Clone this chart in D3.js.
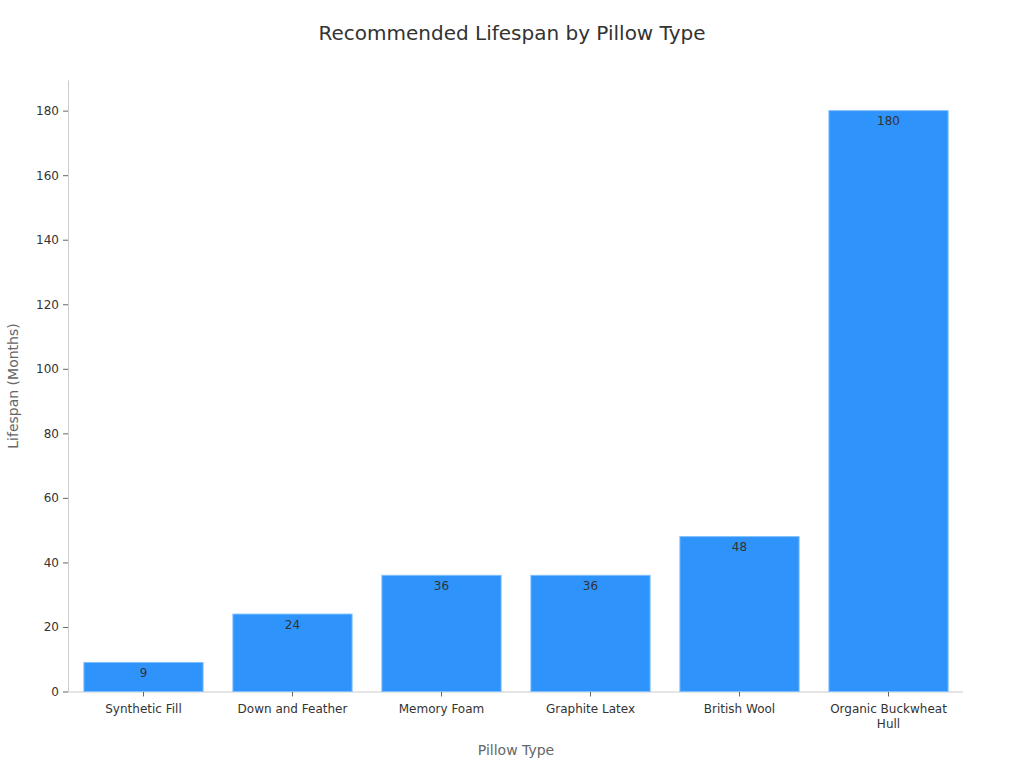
<!DOCTYPE html>
<html><head><meta charset="utf-8">
<script src="https://cdn.jsdelivr.net/npm/d3@7"></script>
<style>body{margin:0;background:#fff;font-family:"DejaVu Sans",sans-serif}</style>
</head><body><svg id="c" width="1024" height="768"></svg>
<script>
const categories = ["Synthetic Fill","Down and Feather","Memory Foam","Graphite Latex","British Wool","Organic Buckwheat Hull"];
const lifespan = [9,24,36,36,48,180];
const yTicks = [0,20,40,60,80,100,120,140,160,180];

const svg = d3.select("#c");
const x = d3.scaleBand().domain(categories).range([69,963]).paddingInner(0.2).paddingOuter(0.1);
const y = d3.scaleLinear().domain([0,189.5]).range([691.5,80]);

svg.append("text").attr("x",512).attr("y",40).attr("text-anchor","middle")
  .attr("font-size",20).attr("fill","#333").text("Recommended Lifespan by Pillow Type");

const gy = svg.append("g").attr("transform","translate(68,0)")
  .call(d3.axisLeft(y).tickValues(yTicks).tickSize(5).tickSizeOuter(0).tickPadding(4));
gy.select(".domain").attr("stroke","#ccc");
gy.selectAll(".tick line").attr("stroke","#666");
gy.selectAll(".tick text").attr("font-size",12).attr("fill","#333").attr("font-family","DejaVu Sans");

const gx = svg.append("g").attr("transform","translate(0,691.5)")
  .call(d3.axisBottom(x).tickSize(5).tickSizeOuter(0).tickPadding(8));
gx.select(".domain").attr("stroke","#ccc").attr("d","M68,0.5H963");
gx.selectAll(".tick line").attr("stroke","#666");
gx.selectAll(".tick text").attr("font-size",12).attr("fill","#333").attr("font-family","DejaVu Sans")
  .each(function(d){
    const t = d3.select(this);
    if (d === "Organic Buckwheat Hull") {
      t.text(null);
      t.append("tspan").attr("x",0).attr("dy","0.71em").text("Organic Buckwheat");
      t.append("tspan").attr("x",0).attr("dy","1.28em").text("Hull");
      t.attr("dy",null);
    }
  });

svg.append("g").selectAll("rect").data(categories).join("rect")
  .attr("x",d=>x(d)).attr("width",x.bandwidth())
  .attr("y",(d,i)=>y(lifespan[i])).attr("height",(d,i)=>y(0)-y(lifespan[i]))
  .attr("fill","#2e93fa").attr("stroke","#7fbfff").attr("stroke-width",1);

svg.append("g").selectAll("text").data(categories).join("text")
  .attr("x",d=>x(d)+x.bandwidth()/2).attr("y",(d,i)=>y(lifespan[i])+14.5)
  .attr("text-anchor","middle").attr("font-size",12).attr("fill","#333")
  .text((d,i)=>lifespan[i]);

svg.append("text").attr("x",516).attr("y",755).attr("text-anchor","middle")
  .attr("font-size",14).attr("fill","#666").text("Pillow Type");
svg.append("text").attr("transform","translate(18,386) rotate(-90)").attr("text-anchor","middle")
  .attr("font-size",14).attr("fill","#666").text("Lifespan (Months)");
</script></body></html>
